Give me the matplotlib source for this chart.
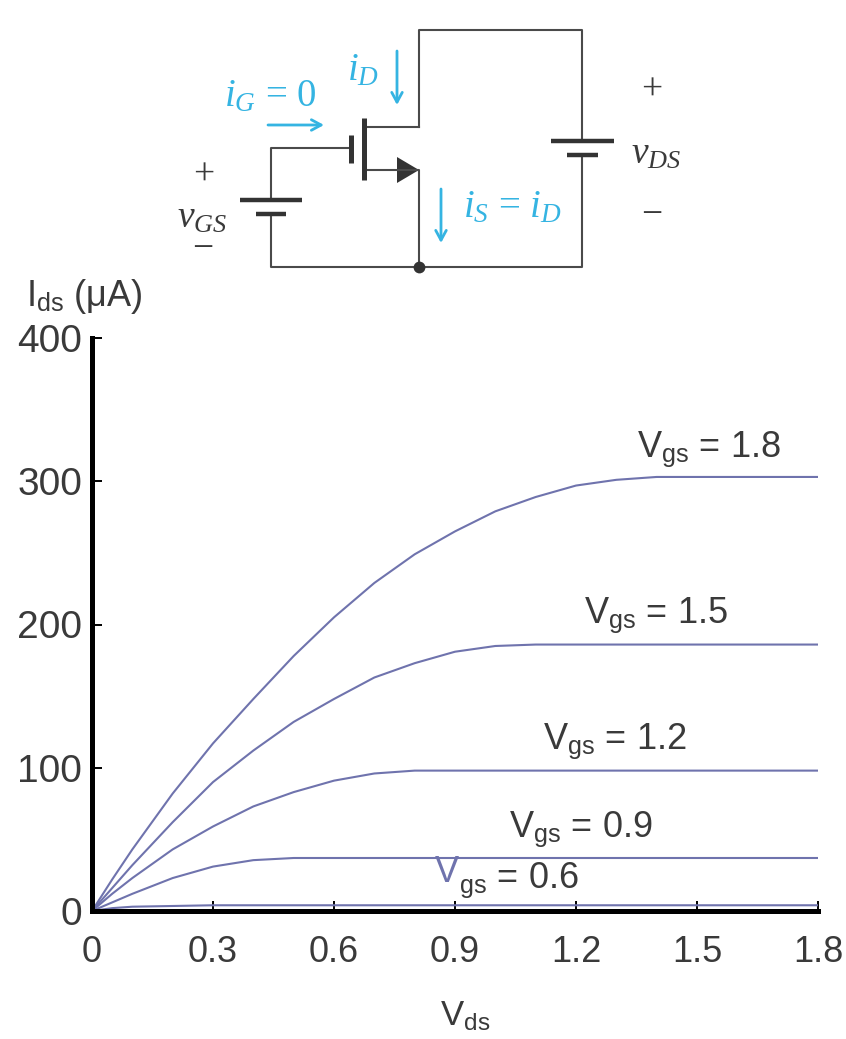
import matplotlib
matplotlib.use("Agg")
import matplotlib.pyplot as plt

plt.rcParams['font.family'] = ['Liberation Sans', 'DejaVu Sans']
plt.rcParams['mathtext.fontset'] = 'custom'
plt.rcParams['mathtext.rm'] = 'Liberation Sans'
plt.rcParams['mathtext.it'] = 'Liberation Serif:italic'

W, H = 846, 1039
GRAY = '#3a3a3a'
CURVE = '#6f73ad'
BLUE = '#35b4e2'
WIRE = '#4a4a4a'

vds = [0, 0.05, 0.1, 0.2, 0.3, 0.4, 0.5, 0.6, 0.7, 0.8, 0.9, 1.0, 1.1, 1.2, 1.3, 1.4, 1.5, 1.6, 1.7, 1.8]
ids_18 = [0, 22, 43, 82, 117, 148, 178, 205, 229, 249, 265, 279, 289, 297, 301, 303, 303, 303, 303, 303]
ids_15 = [0, 16, 32, 62, 90, 112, 132, 148, 163, 173, 181, 185, 186, 186, 186, 186, 186, 186, 186, 186]
ids_12 = [0, 12, 23, 43, 59, 73, 83, 91, 96, 98, 98, 98, 98, 98, 98, 98, 98, 98, 98, 98]
ids_09 = [0, 6, 12, 23, 31, 35.5, 37, 37, 37, 37, 37, 37, 37, 37, 37, 37, 37, 37, 37, 37]
ids_06 = [0, 2, 3, 3.5, 4, 4, 4, 4, 4, 4, 4, 4, 4, 4, 4, 4, 4, 4, 4, 4]
curves = [ids_18, ids_15, ids_12, ids_09, ids_06]

xticks = [0, 0.3, 0.6, 0.9, 1.2, 1.5, 1.8]
xticklabels = ['0', '0.3', '0.6', '0.9', '1.2', '1.5', '1.8']
yticks = [0, 100, 200, 300, 400]

fig = plt.figure(figsize=(W / 100, H / 100), dpi=100)
ax = fig.add_axes([92 / W, 1 - 911 / H, (818 - 92) / W, (911 - 338) / H])
for c in curves:
    ax.plot(vds, c, color=CURVE, lw=1.5, solid_capstyle='butt', solid_joinstyle='round', clip_on=False)

ax.set_xlim(0, 1.8)
ax.set_ylim(0, 400)
ax.set_xticks(xticks)
ax.set_xticklabels(xticklabels)
ax.set_yticks(yticks)
for s in ['top', 'right']:
    ax.spines[s].set_visible(False)
for s in ['left', 'bottom']:
    ax.spines[s].set_linewidth(3.6)
    ax.spines[s].set_color('black')
ax.tick_params(direction='in', length=7, width=1.4, color='black', labelcolor=GRAY)
ax.tick_params(axis='x', pad=17, labelsize=26)
ax.tick_params(axis='y', pad=7, labelsize=28)

# overlay in image pixels for the schematic and the labels
ov = fig.add_axes([0, 0, 1, 1], facecolor='none')
ov.set_xlim(0, W)
ov.set_ylim(H, 0)
ov.axis('off')

# wires
wires = [
    ([419, 419, 582, 582], [127, 30, 30, 141]),
    ([367, 419], [127, 127]),
    ([271, 271, 351], [200, 148, 148]),
    ([271, 271, 582, 582], [214, 267, 267, 155]),
    ([367, 419, 419], [170, 170, 267]),
]
for xs, ys in wires:
    ov.plot(xs, ys, color=WIRE, lw=1.5)

# battery plates and transistor bars
plates = [
    ([240, 302], [200, 200], 3.2), ([256, 286], [214, 214], 3.2),
    ([551, 614], [141, 141], 3.2), ([567, 598], [155, 155], 3.2),
    ([364, 364], [118, 180], 3.6), ([351, 351], [135, 163], 3.6),
]
for xs, ys, lw in plates:
    ov.plot(xs, ys, color='#333333', lw=lw, solid_capstyle='butt')
ov.fill([397, 419, 397], [157, 170, 183], color='#333333', lw=0)
ov.plot([419], [267], 'o', color='#333333', ms=8.5, mew=0)

# current arrows
for start, end in [((397, 51), (397, 105)), ((268, 125), (324, 125)), ((441, 189), (441, 243))]:
    ov.annotate('', xy=end, xytext=start,
                arrowprops=dict(arrowstyle='->,head_length=0.7,head_width=0.38', color=BLUE,
                                lw=2, shrinkA=0, shrinkB=0))

serif = ['Liberation Serif', 'DejaVu Serif']
ov.text(224, 97, r'$\mathit{i}_{\mathit{G}}$ = 0', color=BLUE, fontsize=28, family=serif, ha='left', va='center')
ov.text(347, 71, r'$\mathit{i}_{\mathit{D}}$', color=BLUE, fontsize=28, family=serif, ha='left', va='center')
ov.text(463, 208, r'$\mathit{i}_{\mathit{S}}$ = $\mathit{i}_{\mathit{D}}$', color=BLUE, fontsize=28, family=serif, ha='left', va='center')
ov.text(631, 154, r'$\mathit{v}_{\mathit{DS}}$', color=GRAY, fontsize=27, family=serif, ha='left', va='center')
ov.text(177, 218, r'$\mathit{v}_{\mathit{GS}}$', color=GRAY, fontsize=27, family=serif, ha='left', va='center')
for x, y, s in [(652, 90, '+'), (652, 216, '\u2212'), (204, 175, '+'), (203, 250, '\u2212')]:
    ov.text(x, y, s, color=GRAY, fontsize=27, family=serif, ha='center', va='center')

# curve labels
ov.text(637, 449, r'V$_{\mathrm{gs}}$ = 1.8', color=GRAY, fontsize=26, ha='left', va='center')
ov.text(584, 615, r'V$_{\mathrm{gs}}$ = 1.5', color=GRAY, fontsize=26, ha='left', va='center')
ov.text(543, 741, r'V$_{\mathrm{gs}}$ = 1.2', color=GRAY, fontsize=26, ha='left', va='center')
ov.text(509, 829, r'V$_{\mathrm{gs}}$ = 0.9', color=GRAY, fontsize=26, ha='left', va='center')
ov.text(435, 872, 'V', color=CURVE, fontsize=26, ha='left', va='center')
ov.text(459, 880, r'$_{\mathrm{gs}}$ = 0.6', color=GRAY, fontsize=26, ha='left', va='center')

# axis titles
ov.text(26, 296, r'I$_{\mathrm{ds}}$ ($\mathrm{\mu}$A)', color=GRAY, fontsize=26, ha='left', va='center')
ov.text(440, 1016, r'V$_{\mathrm{ds}}$', color=GRAY, fontsize=25, ha='left', va='center')

fig.savefig('out.png', dpi=100)
